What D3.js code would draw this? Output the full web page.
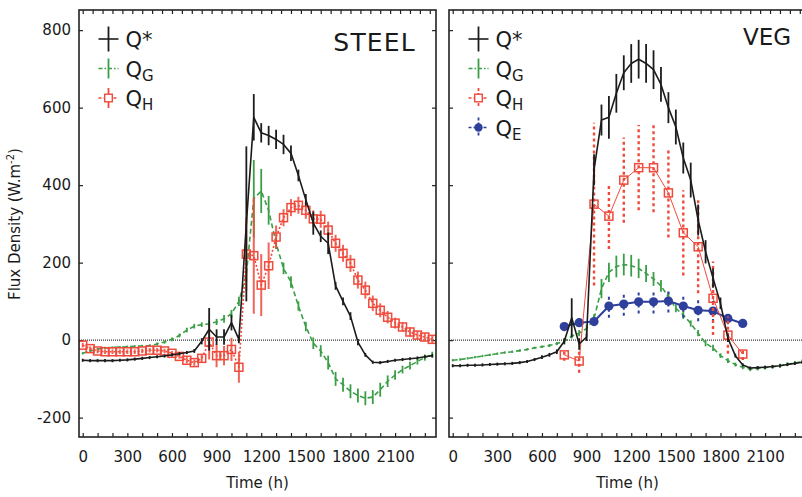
<!DOCTYPE html>
<html><head><meta charset="utf-8">
<script src="https://cdn.jsdelivr.net/npm/d3@7"></script>
<style>
body{margin:0;background:#fff}
svg{display:block}
text{font-family:"DejaVu Sans",sans-serif;fill:#1a1a1a}
</style>
</head><body>
<svg id="c" width="802" height="497"></svg>
<script>
// ---------- DATA ----------
const time = [0,50,100,150,200,250,300,350,400,450,500,550,600,650,700,750,
  800,850,900,950,1000,1050,1100,1150,1200,1250,1300,1350,1400,1450,1500,1550,
  1600,1650,1700,1750,1800,1850,1900,1950,2000,2050,2100,2150,2200,2250,2300,2350];

const steelQstar = [-52,-53,-53,-53,-53,-52,-51,-49, -47,-45,-43,-41,-38,-35,-32,-28,
  -3,28,8,8,45,2,300,575, 535,528,518,505,482,425,362,302,
  268,250,140,100,62,-5,-38,-57, -58,-55,-52,-50,-48,-46,-43,-40];
const steelQstarErr = [4,4,4,4,4,4,4,4, 4,4,4,4,4,4,4,5,
  8,55,20,20,20,10,200,60, 25,25,25,25,20,15,15,30,
  15,28,10,10,10,8,5,4, 4,4,4,4,4,4,4,4];

const steelQG = [-34,-28,-23,-20,-19,-18,-17,-16, -15,-14,-10,-5,2,12,26,36,
  40,42,47,55,68,100,170,365, 385,335,250,185,150,88,35,-8,
  -28,-58,-100,-115,-132,-143,-150,-147, -128,-106,-90,-76,-66,-55,-45,-38];
const steelQGErr = [3,3,3,3,3,3,3,3, 3,3,4,4,5,5,6,6,
  6,8,8,10,10,12,20,100, 57,37,15,15,15,12,12,15,
  15,18,18,18,18,18,18,18, 18,15,12,10,10,8,8,8];

const steelQH = [-13,-22,-28,-30,-30,-30,-30,-30, -28,-26,-26,-28,-34,-42,-52,-58,
  -47,-5,-40,-40,-24,-70,222,218, 142,192,266,316,342,348,335,313,
  312,284,250,224,198,155,129,95, 77,59,44,34,21,13,8,2];
const steelQHErr = [6,6,6,6,6,6,6,6, 6,6,6,6,6,6,8,8,
  10,45,30,25,30,40,95,150, 80,60,30,22,22,22,22,22,
  22,22,22,22,22,22,22,20, 18,16,14,12,12,10,10,10];

const vegQstar = [-66,-66,-65,-65,-64,-63,-62,-61, -60,-58,-55,-50,-44,-38,-30,-3,
  58,-10,8,440,568,575,637,690, 714,725,714,698,660,600,550,470,
  413,310,228,160,95,5,-40,-64, -72,-71,-70,-68,-66,-63,-60,-57];
const vegQstarErr = [4,4,4,4,4,4,4,4, 4,4,4,4,5,5,6,8,
  50,15,10,40,40,55,50,45, 50,50,50,50,45,40,45,40,
  45,40,30,25,15,10,5,4, 4,4,4,4,4,4,4,4];

const vegQG = [-52,-50,-47,-44,-41,-38,-35,-32, -30,-27,-24,-20,-17,-14,-9,-3,
  10,18,30,55,133,175,190,195, 192,185,172,158,140,112,82,65,
  43,18,-8,-20,-40,-53,-63,-70, -75,-73,-71,-69,-66,-62,-59,-55];
const vegQGErr = [3,3,3,3,3,3,3,3, 3,3,3,3,3,4,4,5,
  6,8,10,12,25,25,28,28, 28,25,22,18,15,12,10,10,
  8,8,8,8,6,6,5,5, 5,5,5,5,5,5,5,5];

const vegHourly = [750,850,950,1050,1150,1250,1350,1450,1550,1650,1750,1850,1950];
const vegQH    = [-38,-54,351,320,413,445,445,380,277,241,108,13,-36];
const vegQHErr = [15,30,210,85,110,110,115,115,110,120,95,48,15];
const vegQE    = [35,45,48,88,93,99,99,101,88,77,75,56,43];
const vegQEErr = [8,10,10,30,30,30,30,30,30,28,28,15,8];

const xTickLabels = [0,300,600,900,1200,1500,1800,2100];
const xMinorTicks = [0,100,200,300,400,500,600,700,800,900,1000,1100,1200,1300,1400,1500,1600,1700,1800,1900,2000,2100,2200,2300];
const yTickValues = [-200,0,200,400,600,800];

// ---------- STYLE ----------
const C = {black:'#1c1c1c', green:'#3a9e46', red:'#ef4a3c', blue:'#2e3f9c'};
const svg = d3.select('#c');
const PW = 357, TOP = 10, BOT = 437;
const y = d3.scaleLinear().domain([-250, 852]).range([BOT, TOP]);

function zip(ts, vs, es){ return ts.map((t,i)=>({t, v:vs[i], e:es[i]})); }

const panels = [
  {x0:79, title:'STEEL', titleX:416, titleY:51, titleSize:25, ls:1.2, yLabels:true,
   series:[
     {key:'QG', data:zip(time, steelQG, steelQGErr), color:C.green, lw:1.6, dash:'5,3', ew:1.8, edash:null, marker:null},
     {key:'QH', data:zip(time, steelQH, steelQHErr), color:C.red, lw:1.6, dash:'2,2', ew:2, edash:null, marker:'square', eop:0.85},
     {key:'Qs', data:zip(time, steelQstar, steelQstarErr), color:C.black, lw:1.6, dash:null, ew:1.8, edash:null, marker:null}
   ],
   legend:[
     {lab:'Q', sub:null, sup:'*', color:C.black, dash:null, edash:null, marker:null},
     {lab:'Q', sub:'G', color:C.green, dash:'4,2,1.5,2', edash:null, marker:null},
     {lab:'Q', sub:'H', color:C.red, dash:'3,2', edash:null, marker:'square'}
   ]},
  {x0:449, title:'VEG', titleX:791, titleY:45, titleSize:23, ls:0, yLabels:false,
   series:[
     {key:'QG', data:zip(time, vegQG, vegQGErr), color:C.green, lw:1.6, dash:'5,3', ew:1.8, edash:null, marker:null},
     {key:'QE', data:zip(vegHourly, vegQE, vegQEErr), color:C.blue, lw:2, dash:null, ew:2, edash:'3,3', marker:'circle'},
     {key:'QH', data:zip(vegHourly, vegQH, vegQHErr), color:C.red, lw:1, dash:null, ew:2.4, edash:'3,3', marker:'square'},
     {key:'Qs', data:zip(time, vegQstar, vegQstarErr), color:C.black, lw:1.6, dash:null, ew:1.8, edash:null, marker:null}
   ],
   legend:[
     {lab:'Q', sub:null, sup:'*', color:C.black, dash:null, edash:null, marker:null},
     {lab:'Q', sub:'G', color:C.green, dash:'4,2,1.5,2', edash:null, marker:null},
     {lab:'Q', sub:'H', color:C.red, dash:'3,2', edash:'3,2', marker:'square'},
     {lab:'Q', sub:'E', color:C.blue, dash:'3,2', edash:'3,2', marker:'circle'}
   ]}
];

panels.forEach((p, pi) => {
  const x = d3.scaleLinear().domain([-25, 2375]).range([p.x0, p.x0 + PW]);
  const g = svg.append('g');
  const clipId = 'clip' + pi;
  svg.append('defs').append('clipPath').attr('id', clipId)
    .append('rect').attr('x', p.x0).attr('y', TOP).attr('width', PW).attr('height', BOT - TOP);

  // axes (ticks inward)
  const ax = g.append('g').attr('class','axes');
  const bottom = d3.axisBottom(x).tickValues(xMinorTicks).tickSize(-4).tickPadding(14)
    .tickFormat(d => xTickLabels.includes(d) ? String(d) : '');
  ax.append('g').attr('transform', `translate(0,${BOT})`).call(bottom);
  const topTicks = d3.range(0, 2375, 2400/36);
  ax.append('g').attr('transform', `translate(0,${TOP})`)
    .call(d3.axisTop(x).tickValues(topTicks).tickSize(-4).tickFormat(''));
  const left = d3.axisLeft(y).tickValues(yTickValues).tickSize(-4).tickPadding(8)
    .tickFormat(d => p.yLabels ? String(d) : '');
  ax.append('g').attr('transform', `translate(${p.x0},0)`).call(left);
  ax.append('g').attr('transform', `translate(${p.x0 + PW},0)`)
    .call(d3.axisRight(y).tickValues(yTickValues).tickSize(-4).tickFormat(''));
  ax.selectAll('.domain').remove();
  ax.selectAll('.tick line').attr('stroke', '#222').attr('stroke-width', 1.2);
  ax.selectAll('.tick text').style('font-family', '"DejaVu Sans",sans-serif').style('font-size', '15px').attr('fill', '#1a1a1a');

  // zero line
  g.append('line').attr('x1', p.x0).attr('x2', p.x0 + PW).attr('y1', y(0)).attr('y2', y(0))
    .attr('stroke', '#333').attr('stroke-width', 1.3).attr('stroke-dasharray', '1,1');

  const plot = g.append('g').attr('clip-path', `url(#${clipId})`);
  const line = d3.line().x(d => x(d.t)).y(d => y(d.v));

  p.series.forEach(s => {
    const sg = plot.append('g');
    // error bars
    sg.selectAll('line.err').data(s.data).join('line').attr('class','err')
      .attr('x1', d => x(d.t)).attr('x2', d => x(d.t))
      .attr('y1', d => y(d.v - d.e)).attr('y2', d => y(d.v + d.e))
      .attr('stroke', s.color).attr('stroke-width', s.ew)
      .attr('stroke-opacity', s.eop || 1)
      .attr('stroke-dasharray', s.edash);
    // line
    sg.append('path').datum(s.data).attr('d', line)
      .attr('fill', 'none').attr('stroke', s.color).attr('stroke-width', s.lw)
      .attr('stroke-dasharray', s.dash).attr('stroke-linejoin', 'round');
    // markers
    if (s.marker === 'square') {
      sg.selectAll('rect.m').data(s.data).join('rect').attr('class','m')
        .attr('x', d => x(d.t) - 4).attr('y', d => y(d.v) - 4)
        .attr('width', 8).attr('height', 8)
        .attr('fill', 'none').attr('stroke', s.color).attr('stroke-width', 1.5);
    } else if (s.marker === 'circle') {
      sg.selectAll('circle.m').data(s.data).join('circle').attr('class','m')
        .attr('cx', d => x(d.t)).attr('cy', d => y(d.v)).attr('r', 4.6)
        .attr('fill', s.color);
    }
  });

  // frame
  g.append('rect').attr('x', p.x0).attr('y', TOP).attr('width', PW).attr('height', BOT - TOP)
    .attr('fill', 'none').attr('stroke', '#222').attr('stroke-width', 1.6);

  // title
  g.append('text').attr('x', p.titleX).attr('y', p.titleY).attr('text-anchor', 'end')
    .style('font-size', p.titleSize + 'px').style('letter-spacing', p.ls + 'px').text(p.title);

  // x label
  g.append('text').attr('x', p.x0 + PW / 2).attr('y', 488).attr('text-anchor', 'middle')
    .style('font-size', '15px').text('Time (h)');

  // legend
  const sx = p.x0 + 29.5, tx = p.x0 + 46.5;
  p.legend.forEach((L, i) => {
    const cy = 39 + i * 29.5;
    const lg = g.append('g');
    lg.append('line').attr('x1', sx - 10).attr('x2', sx + 10).attr('y1', cy).attr('y2', cy)
      .attr('stroke', L.color).attr('stroke-width', 1.6).attr('stroke-dasharray', L.dash);
    const half = i === 0 ? 12.5 : 10;
    lg.append('line').attr('x1', sx).attr('x2', sx).attr('y1', cy - half).attr('y2', cy + half)
      .attr('stroke', L.color).attr('stroke-width', 1.8).attr('stroke-dasharray', L.edash);
    if (L.marker === 'square') {
      lg.append('rect').attr('x', sx - 3.8).attr('y', cy - 3.8).attr('width', 7.6).attr('height', 7.6)
        .attr('fill', '#fff').attr('stroke', L.color).attr('stroke-width', 1.4);
    } else if (L.marker === 'circle') {
      lg.append('circle').attr('cx', sx).attr('cy', cy).attr('r', 4.2).attr('fill', L.color);
    }
    const t = lg.append('text').attr('x', tx).attr('y', cy + 8).style('font-size', '21px');
    t.append('tspan').text(L.lab);
    if (L.sup) t.append('tspan').text(L.sup);
    if (L.sub) t.append('tspan').attr('dy', 4).style('font-size', '15px').text(L.sub);
  });
});

// y axis title
const yt = svg.append('text').attr('transform', 'translate(20,224) rotate(-90)')
  .attr('text-anchor', 'middle').style('font-size', '15px');
yt.append('tspan').text('Flux Density (W.m');
yt.append('tspan').attr('dy', -6).style('font-size', '10px').text('-2');
yt.append('tspan').attr('dy', 6).text(')');
</script>
</body></html>
